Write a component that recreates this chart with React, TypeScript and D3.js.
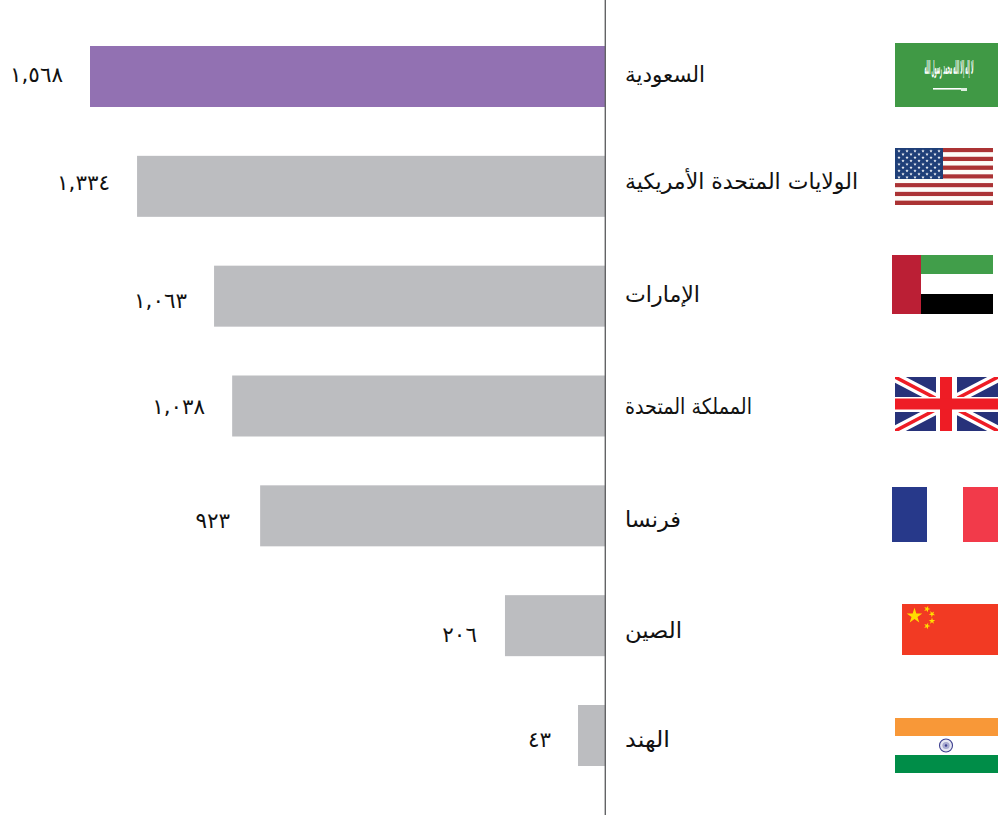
import React from 'react';
import * as d3 from 'd3';

const countries = ['السعودية', 'الولايات المتحدة الأمريكية', 'الإمارات', 'المملكة المتحدة', 'فرنسا', 'الصين', 'الهند'];
// printed figures
const valueLabels = ['١,٥٦٨', '١,٣٣٤', '١,٠٦٣', '١,٠٣٨', '٩٢٣', '٢٠٦', '٤٣'];
// the bars in the picture are not proportional to the printed figures,
// so their lengths are read off separately (same units as the top bar)
const barValues = [1568, 1425, 1191, 1136, 1051, 307, 85];
const barColors = ['#9271b2', '#bcbdc0', '#bcbdc0', '#bcbdc0', '#bcbdc0', '#bcbdc0', '#bcbdc0'];

const width = 998;
const height = 816;
const axisX = 606;
const font = '"DejaVu Sans", sans-serif';
// the labels sit unevenly against their bars in the original
const nameDy = [5.5, 3, 6, 7.5, 11.5, 12, 11.5];
const nameWidths = [80, 233, 75, 127, 56, 57, 45];
const valueDy = [5.5, 3.5, 12, 7.5, 12.5, 16, 11.5];
const valueGaps = [27, 27, 27, 27, 30, 28, 27];

const x = d3.scaleLinear().domain([0, 1568]).range([axisX, 90]);
const y = d3.scaleBand().domain(countries).range([46, 766]).paddingInner(0.4446);

function star(cx: number, cy: number, size: number, fill: string, rotate = 0) {
  const d = d3.symbol().type(d3.symbolStar).size(size)() as string;
  return <path key={cx + '-' + cy} d={d} fill={fill} transform={`translate(${cx},${cy}) rotate(${rotate})`} />;
}

function SaudiFlag() {
  return (
    <g>
      <rect x={895} y={43} width={103} height={64} fill="#409945" />
      <text transform="translate(949,74) scale(0.18,1)" fontFamily={font} fontSize={19} fontWeight="bold" fill="#fff" textAnchor="middle">
        لا إله إلا الله محمد رسول الله
      </text>
      <rect x={933} y={88} width={34} height={1.6} fill="#fff" />
      <rect x={961} y={88} width={6} height={3} fill="#dfeee0" />
    </g>
  );
}

function UsaFlag() {
  const stripes = d3.range(13);
  const h = 57 / 13;
  const stars: React.ReactNode[] = [];
  d3.range(9).forEach(r => {
    const odd = r % 2 === 1;
    d3.range(odd ? 5 : 6).forEach(c => {
      stars.push(star(899 + (odd ? 4 : 0) + c * 8, 151 + r * 3.3, 3.5, '#fff'));
    });
  });
  return (
    <g>
      {stripes.map(i => (
        <rect key={i} x={895} y={148 + i * h} width={98} height={h} fill={i % 2 === 0 ? '#ab3334' : '#fdfcf7'} />
      ))}
      <rect x={895} y={148} width={48} height={31} fill="#1f3f78" />
      {stars}
    </g>
  );
}

function UaeFlag() {
  return (
    <g>
      <rect x={921} y={255} width={72} height={19} fill="#419e4a" />
      <rect x={921} y={294} width={72} height={20} fill="#000" />
      <rect x={892} y={255} width={29} height={59} fill="#bb1f35" />
    </g>
  );
}

function UkFlag() {
  const [l, t, r, b] = [895, 377, 998, 431];
  return (
    <g>
      <clipPath id="uk-clip">
        <rect x={l} y={t} width={r - l} height={b - t} />
      </clipPath>
      <g clipPath="url(#uk-clip)">
        <rect x={l} y={t} width={r - l} height={b - t} fill="#27327a" />
        <path d={`M${l},${t}L${r},${b}M${r},${t}L${l},${b}`} stroke="#fff" strokeWidth={10} />
        <path d={`M${l},${t}L${r},${b}M${r},${t}L${l},${b}`} stroke="#ee1c25" strokeWidth={3.5} />
        <rect x={936} y={t} width={21} height={b - t} fill="#fff" />
        <rect x={l} y={397} width={r - l} height={15} fill="#fff" />
        <rect x={940} y={t} width={12} height={b - t} fill="#ee1c25" />
        <rect x={l} y={398.5} width={r - l} height={11} fill="#ee1c25" />
      </g>
    </g>
  );
}

function FranceFlag() {
  return (
    <g>
      <rect x={892} y={487} width={35} height={55} fill="#27398a" />
      <rect x={963} y={487} width={35} height={55} fill="#f23a4a" />
    </g>
  );
}

function ChinaFlag() {
  return (
    <g>
      <rect x={902} y={604} width={96} height={51} fill="#f23a23" />
      {star(914.5, 616, 75, '#ffde00')}
      {star(927, 609, 13, '#ffde00', 20)}
      {star(932, 614, 13, '#ffde00', 40)}
      {star(932, 621, 13, '#ffde00', 0)}
      {star(927, 626, 13, '#ffde00', 20)}
    </g>
  );
}

function IndiaFlag() {
  return (
    <g>
      <rect x={895} y={718} width={103} height={18} fill="#f89838" />
      <rect x={895} y={755} width={103} height={18} fill="#008d48" />
      <circle cx={946} cy={745.5} r={6.5} fill="#e6e7f2" stroke="#3d3f8f" strokeWidth={1.1} />
      <circle cx={946} cy={745.5} r={3.6} fill="#a9abd0" />
      <circle cx={946} cy={745.5} r={1.2} fill="#3d3f8f" />
    </g>
  );
}

export default function App() {
  return (
    <svg width={width} height={height} style={{ position: 'absolute', left: 0, top: 0, background: '#fff' }}>
      {countries.map((c, i) => (
        <rect key={c} x={x(barValues[i])} y={y(c)} width={axisX - x(barValues[i])} height={y.bandwidth()} fill={barColors[i]} />
      ))}
      <line x1={axisX - 0.7} x2={axisX - 0.7} y1={0} y2={815} stroke="#636466" strokeWidth={1.4} />
      {countries.map((c, i) => (
        <text key={c} x={x(barValues[i]) - valueGaps[i]} y={(y(c) as number) + y.bandwidth() / 2 + valueDy[i]} textAnchor="end" fontFamily={font} fontSize={21.5} fill="#111" style={{ direction: 'ltr', unicodeBidi: 'bidi-override' }}>
          {valueLabels[i]}
        </text>
      ))}
      {countries.map((c, i) => (
        <text key={c} x={625} y={(y(c) as number) + y.bandwidth() / 2 + nameDy[i]} fontFamily={font} fontSize={21.8} fill="#111" textLength={nameWidths[i]} lengthAdjust="spacingAndGlyphs" style={{ direction: 'ltr' }}>
          {c}
        </text>
      ))}
      <SaudiFlag />
      <UsaFlag />
      <UaeFlag />
      <UkFlag />
      <FranceFlag />
      <ChinaFlag />
      <IndiaFlag />
    </svg>
  );
}
